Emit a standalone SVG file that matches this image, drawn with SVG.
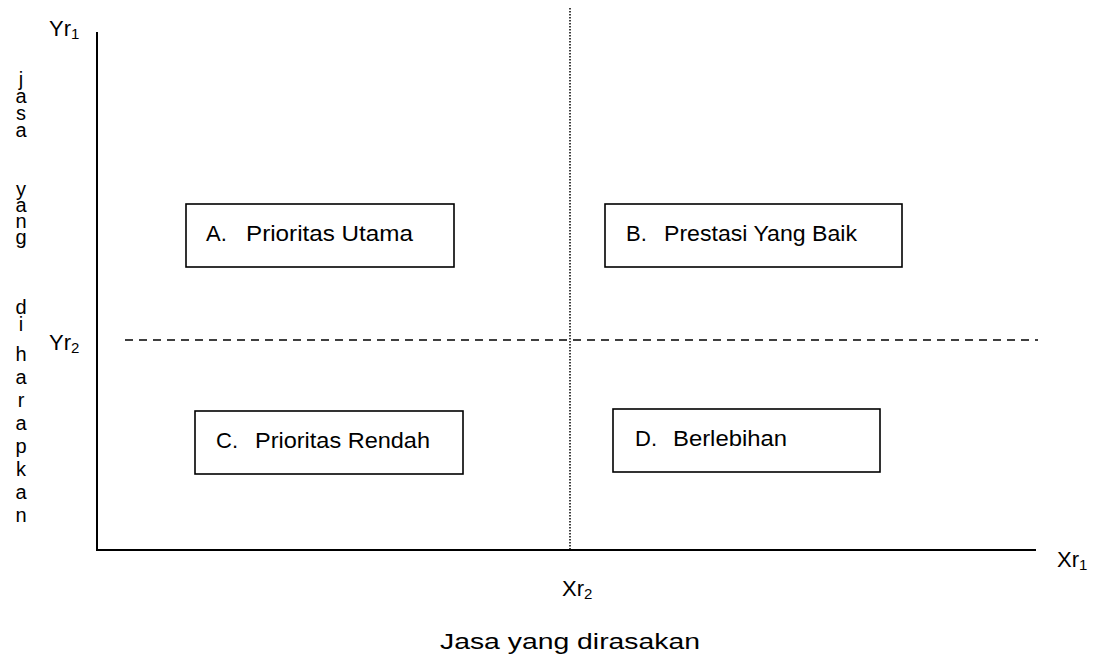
<svg xmlns="http://www.w3.org/2000/svg" width="1103" height="658" viewBox="0 0 1103 658">
<style>
text{font-family:"Liberation Sans",Arial,sans-serif;fill:#000}
.lbl{font-size:22px}
.ax{font-size:22px}
.sub{font-size:15px}
.v{font-size:20px;text-anchor:middle}
.box{fill:#fff;stroke:#000;stroke-width:1.6}
</style>
<rect width="1103" height="658" fill="#fff"/>
<g id="connectors">
<line x1="97" y1="32" x2="97" y2="551" stroke="#000" stroke-width="2"/>
<line x1="96" y1="550" x2="1036" y2="550" stroke="#000" stroke-width="2"/>
<line x1="570" y1="8" x2="570" y2="551" stroke="#000" stroke-width="1.5" stroke-dasharray="1.5 1.5"/>
<line x1="125" y1="340" x2="1038" y2="340" stroke="#000" stroke-width="1.5" stroke-dasharray="8 6"/>
</g>
<g id="nodeA">
<rect class="box" x="186" y="204" width="268" height="63"/>
<text class="lbl" x="206" y="241">A.</text>
<text class="lbl" x="246" y="241" textLength="167" lengthAdjust="spacingAndGlyphs">Prioritas Utama</text>
</g>
<g id="nodeB">
<rect class="box" x="605" y="204" width="297" height="63"/>
<text class="lbl" x="626" y="241">B.</text>
<text class="lbl" x="664" y="241" textLength="193" lengthAdjust="spacingAndGlyphs">Prestasi Yang Baik</text>
</g>
<g id="nodeC">
<rect class="box" x="195" y="411" width="268" height="63"/>
<text class="lbl" x="216" y="448">C.</text>
<text class="lbl" x="255" y="448" textLength="175" lengthAdjust="spacingAndGlyphs">Prioritas Rendah</text>
</g>
<g id="nodeD">
<rect class="box" x="613" y="409" width="267" height="63"/>
<text class="lbl" x="635" y="446">D.</text>
<text class="lbl" x="673" y="446" textLength="114" lengthAdjust="spacingAndGlyphs">Berlebihan</text>
</g>
<g id="labels">
<text class="ax" x="49" y="36">Yr<tspan class="sub" dy="3">1</tspan></text>
<text class="ax" x="49" y="350">Yr<tspan class="sub" dy="3">2</tspan></text>
<text class="ax" x="1057" y="567">Xr<tspan class="sub" dy="3">1</tspan></text>
<text class="ax" x="562" y="596">Xr<tspan class="sub" dy="3">2</tspan></text>
<text class="ax" x="570" y="649" text-anchor="middle" textLength="260" lengthAdjust="spacingAndGlyphs">Jasa yang dirasakan</text>
</g>
<g id="yaxis-title">
<text class="v" x="21" y="86">j</text>
<text class="v" x="21" y="103">a</text>
<text class="v" x="21" y="120">s</text>
<text class="v" x="21" y="137">a</text>
<text class="v" x="21" y="196">y</text>
<text class="v" x="21" y="212">a</text>
<text class="v" x="21" y="228">n</text>
<text class="v" x="21" y="244">g</text>
<text class="v" x="21" y="314">d</text>
<text class="v" x="21" y="331">i</text>
<text class="v" x="21" y="361">h</text>
<text class="v" x="21" y="384">a</text>
<text class="v" x="21" y="407">r</text>
<text class="v" x="21" y="430">a</text>
<text class="v" x="21" y="453">p</text>
<text class="v" x="21" y="476">k</text>
<text class="v" x="21" y="499">a</text>
<text class="v" x="21" y="522">n</text>
</g>
</svg>
